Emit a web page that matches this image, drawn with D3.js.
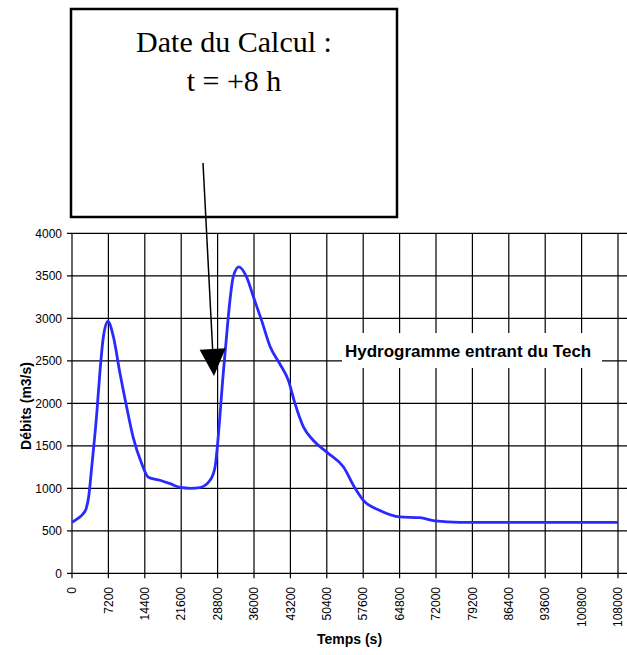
<!DOCTYPE html>
<html>
<head>
<meta charset="utf-8">
<script src="https://cdn.jsdelivr.net/npm/d3@7"></script>
<style>
  body { margin: 0; background: #fff; }
  text { font-family: "Liberation Sans", Arial, sans-serif; }
</style>
</head>
<body>
<script>
// data
var temps = [0, 900, 2200, 2800, 3300, 3900, 4900, 5500, 6200, 7100,
             8200, 9500, 10800, 12100, 13800, 15100, 17400, 19400, 21400, 23400,
             25300, 27300, 28300, 28750, 29300, 29800, 30500, 31100, 31900, 33000,
             34500, 35900, 37500, 39200, 41100, 42800, 44100, 45800, 47700, 50500,
             53700, 56000, 57600, 60900, 64900, 68800, 71800, 76700, 82000, 90000,
             100000, 108000];
var debits = [600, 635, 700, 760, 900, 1250, 1880, 2350, 2780, 2965,
              2780, 2350, 1960, 1600, 1290, 1130, 1095, 1055, 1010, 1000,
              1008, 1094, 1250, 1490, 1880, 2270, 2740, 3130, 3490, 3605,
              3490, 3250, 2975, 2665, 2465, 2270, 2000, 1720, 1565, 1420,
              1250, 1000, 860, 740, 663, 655, 616, 600, 600, 600,
              600, 600];
var xTicks = d3.range(0, 108001, 7200);
var yTicks = d3.range(0, 4001, 500);

var serieLabel = "Hydrogramme entrant du Tech";
var noteLines = ["Date du Calcul :", "t = +8 h"];

var W = 627, H = 655;
var pLeft = 72, pRight = 630, pTop = 233.3, pBottom = 573.3;

var svg = d3.select('body')
            .append('svg')
            .attr('width', W)
            .attr('height', H)
            .style('background', '#fff');

var x = d3.scaleLinear().domain([0, 108000]).range([pLeft, 618]);
var y = d3.scaleLinear().domain([0, 4000]).range([pBottom, pTop]);

// grid (fractional positions give the mixed black / grey look)
svg.append('g').selectAll('line')
   .data(yTicks)
   .enter().append('line')
   .attr('x1', pLeft - 5).attr('x2', pRight)
   .attr('y1', d => y(d)).attr('y2', d => y(d))
   .attr('stroke', '#000').attr('stroke-width', 1.2);

svg.append('g').selectAll('line')
   .data(xTicks)
   .enter().append('line')
   .attr('x1', d => x(d)).attr('x2', d => x(d))
   .attr('y1', pTop).attr('y2', pBottom + 5)
   .attr('stroke', '#000').attr('stroke-width', 1.2);

// y axis labels
svg.append('g').selectAll('text')
   .data(yTicks)
   .enter().append('text')
   .attr('x', 62)
   .attr('y', d => y(d))
   .attr('dy', '0.35em')
   .attr('text-anchor', 'end')
   .style('font-size', '12px')
   .text(d => d);

// x axis labels (rotated)
svg.append('g').selectAll('text')
   .data(xTicks)
   .enter().append('text')
   .attr('transform', d => 'translate(' + x(d) + ',587) rotate(-90)')
   .attr('dy', '0.35em')
   .attr('text-anchor', 'end')
   .style('font-size', '12px')
   .text(d => d);

// axis titles
svg.append('text')
   .attr('x', 349.5).attr('y', 644)
   .attr('text-anchor', 'middle')
   .style('font-size', '14px').style('font-weight', 'bold')
   .text('Temps (s)');

svg.append('text')
   .attr('transform', 'translate(31,406) rotate(-90)')
   .attr('text-anchor', 'middle')
   .style('font-size', '14px').style('font-weight', 'bold')
   .text('Débits (m3/s)');

// series label with white background
svg.append('rect')
   .attr('x', 342).attr('y', 333).attr('width', 260).attr('height', 35)
   .attr('fill', '#fff');
svg.append('text')
   .attr('x', 345).attr('y', 357)
   .style('font-size', '17px').style('font-weight', 'bold')
   .text(serieLabel);

// the curve
var line = d3.line()
             .x((d, i) => x(temps[i]))
             .y(d => y(d))
             .curve(d3.curveMonotoneX);

svg.append('path')
   .attr('d', line(debits))
   .attr('fill', 'none')
   .attr('stroke', '#2a2aff')
   .attr('stroke-width', 2.8);

// note box
svg.append('rect')
   .attr('x', 71).attr('y', 9).attr('width', 326).attr('height', 208)
   .attr('fill', '#fff')
   .attr('stroke', '#000').attr('stroke-width', 2.5);

svg.append('g').selectAll('text')
   .data(noteLines)
   .enter().append('text')
   .attr('x', 234)
   .attr('y', (d, i) => 52 + i * 39)
   .attr('text-anchor', 'middle')
   .style('font-family', '"Liberation Serif", "Times New Roman", serif')
   .style('font-size', '30px')
   .text(d => d);

// arrow
var a0 = [203, 163], tip = [214, 376];
var dx = tip[0] - a0[0], dy = tip[1] - a0[1];
var len = Math.sqrt(dx * dx + dy * dy);
var ux = dx / len, uy = dy / len;
var headLen = 27, headHalf = 13;
var base = [tip[0] - ux * headLen, tip[1] - uy * headLen];

svg.append('line')
   .attr('x1', a0[0]).attr('y1', a0[1])
   .attr('x2', base[0]).attr('y2', base[1])
   .attr('stroke', '#000').attr('stroke-width', 1.5);

svg.append('path')
   .attr('d', d3.line()([
       tip,
       [base[0] - uy * headHalf, base[1] + ux * headHalf],
       [base[0] + uy * headHalf, base[1] - ux * headHalf]
   ]) + 'Z')
   .attr('fill', '#000');
</script>
</body>
</html>
